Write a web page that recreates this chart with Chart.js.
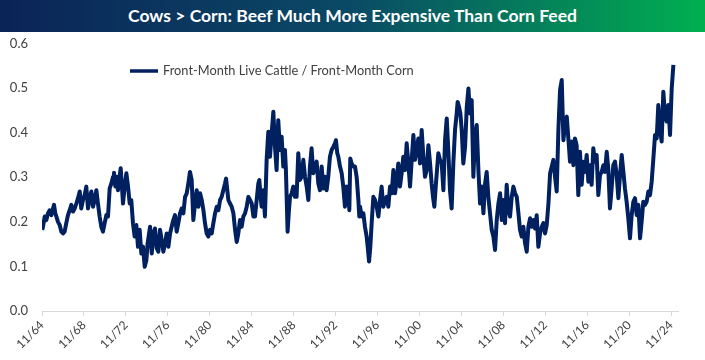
<!DOCTYPE html>
<html><head><meta charset="utf-8">
<script src="https://cdn.jsdelivr.net/npm/chart.js@4/dist/chart.umd.min.js"></script>
<style>
html,body{margin:0;padding:0;background:#fff;}
#wrap{position:relative;width:705px;height:360px;overflow:hidden;}
#banner{position:absolute;left:0;top:0;width:705px;height:32px;background:linear-gradient(90deg,#0b2357 0%,#0a4a66 50%,#00b050 100%);color:#fff;font-family:Lato,sans-serif;font-weight:bold;font-size:17.5px;text-align:center;line-height:32px;white-space:nowrap;}
canvas{position:absolute;left:0;top:0;}
</style></head><body>
<div id="wrap"><canvas id="c" width="705" height="360"></canvas><div id="banner">Cows &gt; Corn: Beef Much More Expensive Than Corn Feed</div></div>
<script>
const seriesLabel = 'Front-Month Live Cattle / Front-Month Corn';
const tickLabels = ['11/64','11/68','11/72','11/76','11/80','11/84','11/88','11/92','11/96','11/00','11/04','11/08','11/12','11/16','11/20','11/24'];
const yTicks = [0,0.1,0.2,0.3,0.4,0.5,0.6];
const dates = [
1964.85,1964.93,1965.09,1965.25,1965.40,1965.56,1965.72,1965.88,1965.98,1966.10,1966.20,1966.36,1966.52,1966.68,1966.84,1966.99,1967.15,1967.31,1967.47,1967.63,1967.79,1967.95,1968.11,1968.27,1968.43,1968.58,1968.74,1968.90,1969.06,1969.22,1969.38,1969.54,1969.70,1969.86,1970.02,1970.17,1970.33,1970.49,1970.65,1970.81,1970.97,1971.13,1971.29,1971.45,1971.61,1971.70,1971.83,1971.95,1972.08,1972.21,1972.34,1972.46,1972.56,1972.72,1972.88,1973.04,1973.20,1973.35,1973.51,1973.67,1973.83,1973.99,1974.15,1974.31,1974.47,1974.63,1974.79,
1974.91,1975.14,1975.30,1975.46,1975.61,1975.77,1975.93,1976.09,1976.25,1976.41,1976.57,1976.73,1976.89,1977.05,1977.20,1977.36,1977.52,1977.68,1977.84,1978.00,1978.16,1978.32,1978.48,1978.64,1978.79,1978.95,1979.11,1979.27,1979.43,1979.59,1979.75,1979.91,1980.07,1980.23,1980.38,1980.54,1980.70,1980.86,1981.02,1981.18,1981.34,1981.50,1981.66,1981.82,1981.97,1982.13,1982.29,1982.39,1982.51,1982.61,1982.77,1982.93,1983.09,1983.25,1983.41,1983.56,1983.72,1983.88,1984.04,1984.20,1984.36,1984.52,1984.68,1984.84,1985.00,
1985.15,1985.31,1985.47,1985.56,1985.69,1985.78,1985.94,1986.10,1986.26,1986.42,1986.58,1986.74,1986.90,1987.06,1987.21,1987.37,1987.53,1987.69,1987.85,1988.01,1988.10,1988.26,1988.39,1988.49,1988.65,1988.80,1988.96,1989.12,1989.28,1989.44,1989.60,1989.76,1989.92,1990.08,1990.24,1990.39,1990.55,1990.71,1990.87,1991.03,1991.19,1991.35,1991.51,1991.67,1991.83,1991.98,1992.14,1992.30,1992.46,1992.62,1992.78,1992.87,1993.00,1993.10,1993.26,1993.42,1993.57,1993.73,1993.89,1994.05,1994.15,1994.24,1994.37,1994.53,1994.69,1994.85,1995.01,1995.10,
1995.17,1995.33,1995.49,1995.64,1995.80,1995.90,1996.03,1996.15,1996.28,1996.44,1996.60,1996.76,1996.92,1997.08,1997.23,1997.39,1997.55,1997.71,1997.87,1998.03,1998.19,1998.35,1998.51,1998.67,1998.82,1998.98,1999.14,1999.30,1999.46,1999.62,1999.78,1999.94,2000.10,2000.26,2000.41,2000.57,2000.73,2000.89,2001.05,2001.21,2001.37,2001.53,2001.69,2001.85,2002.00,2002.13,2002.26,2002.39,2002.51,2002.64,2002.80,2002.96,2003.12,2003.28,2003.44,2003.59,2003.75,2003.91,2004.07,2004.23,2004.39,2004.48,2004.61,2004.74,2004.87,2005.02,
2005.19,2005.35,2005.51,2005.66,2005.82,2005.98,2006.14,2006.30,2006.46,2006.62,2006.78,2006.94,2007.10,2007.25,2007.41,2007.57,2007.73,2007.89,2008.05,2008.21,2008.37,2008.53,2008.69,2008.84,2009.00,2009.16,2009.32,2009.48,2009.64,2009.80,2009.96,2010.12,2010.28,2010.43,2010.59,2010.75,2010.91,2011.07,2011.23,2011.39,2011.55,2011.71,2011.87,2012.02,2012.18,2012.34,2012.50,2012.66,2012.82,2012.98,2013.14,2013.30,2013.46,2013.61,2013.77,2013.93,2014.09,2014.25,2014.41,2014.57,2014.73,2014.89,
2015.04,2015.20,2015.36,2015.52,2015.67,2015.83,2015.99,2016.15,2016.31,2016.47,2016.63,2016.79,2016.95,2017.11,2017.26,2017.42,2017.58,2017.74,2017.90,2018.06,2018.22,2018.38,2018.54,2018.70,2018.85,2019.01,2019.17,2019.33,2019.49,2019.65,2019.81,2019.97,2020.13,2020.29,2020.44,2020.60,2020.76,2020.92,2021.08,2021.24,2021.40,2021.56,2021.72,2021.88,2022.03,2022.19,2022.35,2022.51,2022.67,2022.83,2022.99,2023.15,2023.31,2023.47,2023.62,2023.78,2023.94,2024.10,2024.26,2024.42,2024.58,2024.74,2024.90,2025.06
];
const ratio = [
.182,.189,.212,.204,.219,.226,.215,.230,.238,.219,.212,.200,.193,.178,.174,.178,.197,.215,.226,.238,.223,.230,.241,.253,.268,.230,.249,.260,.279,.230,.253,.268,.234,.249,.271,.241,.212,.189,.178,.197,.215,.212,.275,.286,.301,.310,.279,.301,.271,.297,.320,.279,.241,.279,.309,.279,.241,.249,.197,.167,.193,.144,.182,.129,.144,.099,.114,
.152,.189,.129,.174,.185,.141,.133,.182,.159,.133,.152,.174,.144,.174,.189,.204,.215,.178,.197,.219,.230,.219,.256,.264,.286,.312,.294,.204,.241,.271,.234,.264,.249,.226,.197,.174,.167,.182,.174,.197,.219,.234,.226,.249,.256,.271,.286,.297,.271,.249,.241,.234,.219,.182,.155,.174,.204,.189,.212,.219,.234,.256,.249,.241,.212,
.212,.249,.286,.294,.256,.234,.271,.212,.339,.402,.346,.398,.447,.368,.316,.428,.361,.391,.324,.361,.316,.178,.226,.256,.264,.279,.256,.256,.354,.294,.301,.339,.301,.279,.249,.324,.365,.309,.324,.335,.286,.271,.324,.275,.301,.271,.301,.346,.361,.368,.376,.383,.354,.346,.324,.309,.279,.234,.279,.264,.226,.342,.331,.324,.324,.300,.249,.212,
.234,.212,.219,.189,.167,.144,.111,.144,.197,.256,.249,.234,.212,.249,.279,.234,.249,.256,.234,.279,.264,.316,.264,.294,.331,.279,.309,.346,.316,.376,.331,.279,.339,.395,.339,.361,.387,.331,.406,.346,.301,.316,.372,.331,.286,.256,.234,.279,.316,.354,.339,.331,.271,.383,.432,.361,.271,.230,.331,.406,.443,.469,.458,.443,.406,.331,
.368,.458,.499,.443,.473,.301,.391,.417,.316,.241,.279,.219,.286,.312,.256,.219,.182,.167,.137,.204,.241,.264,.204,.249,.197,.283,.226,.212,.256,.279,.264,.256,.219,.182,.167,.189,.152,.133,.189,.208,.189,.204,.185,.215,.144,.174,.189,.197,.174,.193,.241,.309,.324,.339,.301,.268,.406,.496,.518,.383,.421,.436,
.387,.335,.380,.327,.387,.372,.260,.357,.283,.335,.312,.350,.290,.327,.283,.365,.335,.350,.260,.305,.312,.327,.312,.357,.320,.230,.275,.327,.335,.305,.253,.305,.350,.312,.275,.245,.208,.163,.215,.245,.253,.215,.238,.163,.200,.245,.238,.245,.268,.260,.290,.342,.395,.387,.462,.410,.380,.492,.439,.425,.462,.395,.499,.552
];
function labelToYear(s){const p=s.split('/');const yy=+p[1];return (yy<50?2000+yy:1900+yy)+(+p[0]-1)/12;}
const tickPos = tickLabels.map(labelToYear);

const legendPlugin = {
  id:'insideLegend',
  afterDraw(chart){
    const ctx=chart.ctx, a=chart.chartArea, ds=chart.data.datasets[0];
    const x0=a.left+88, y0=a.top+27.5;
    ctx.save();
    ctx.strokeStyle=ds.borderColor; ctx.lineWidth=3.5; ctx.lineCap='butt';
    ctx.beginPath(); ctx.moveTo(x0,y0); ctx.lineTo(x0+28,y0); ctx.stroke();
    ctx.fillStyle='#404040'; ctx.font='12.8px Lato, sans-serif'; ctx.textBaseline='middle'; ctx.textAlign='left';
    ctx.fillText(ds.label,x0+33,y0);
    ctx.restore();
  }
};

new Chart(document.getElementById('c'),{
  type:'line',
  data:{datasets:[{label:seriesLabel,data:dates.map((d,i)=>({x:d,y:ratio[i]})),borderColor:'#002060',borderWidth:4,pointRadius:0,tension:0,fill:false,borderJoinStyle:'round'}]},
  options:{
    responsive:false,animation:false,devicePixelRatio:1,
    layout:{padding:{top:43.5,right:27,left:0,bottom:0}},
    plugins:{legend:{display:false},tooltip:{enabled:false}},
    scales:{
      x:{type:'linear',min:tickPos[0],max:2025.5,
        afterBuildTicks(s){s.ticks=tickPos.map(v=>({value:v}));},
        afterFit(s){s.height=49;},
        ticks:{autoSkip:false,minRotation:45,maxRotation:45,color:'#404040',font:{family:'Lato',size:12},padding:2,
          callback:(v,i)=>tickLabels[i]},
        grid:{display:true,drawOnChartArea:false,drawTicks:true,tickLength:5,color:'#d9d9d9'},
        border:{display:true,color:'#d9d9d9'}},
      y:{min:0,max:0.6,
        afterBuildTicks(s){s.ticks=yTicks.map(v=>({value:v}));},
        afterFit(s){s.width=42;},
        ticks:{color:'#404040',font:{family:'Lato',size:13},padding:14,callback:v=>v.toFixed(1)},
        grid:{display:false,drawTicks:false},border:{display:false}}
    }
  },
  plugins:[legendPlugin]
});
</script>
</body></html>
